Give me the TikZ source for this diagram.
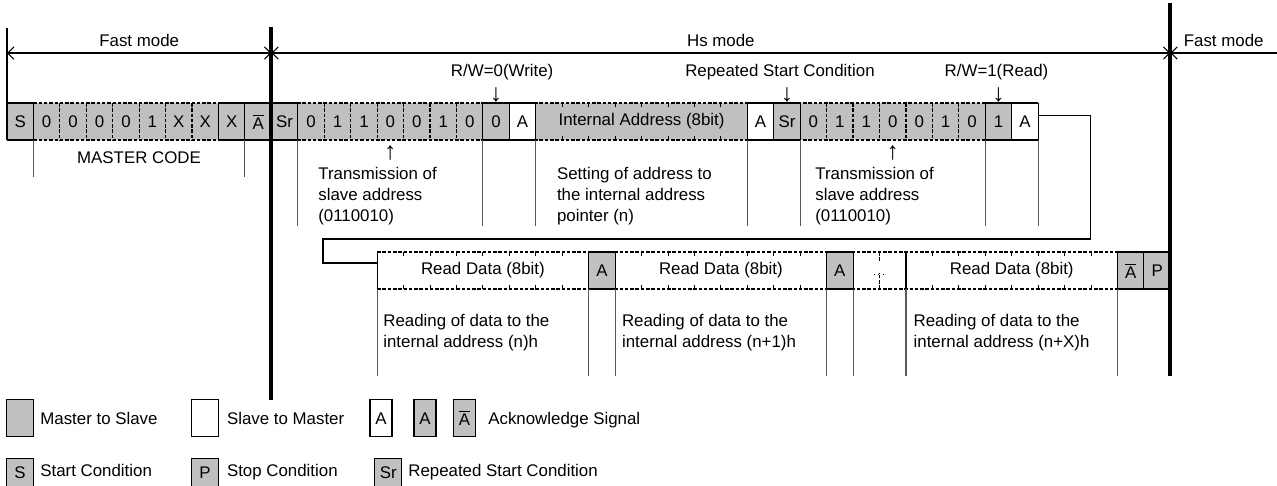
\documentclass[tikz,border=0pt]{standalone}
\usepackage{fontspec}
\setmainfont{Liberation Sans}
\usetikzlibrary{arrows.meta, calc}
\definecolor{mgray}{RGB}{192,192,192}
\definecolor{sepgray}{RGB}{90,90,90}
\newcommand\dfont{\fontsize{9.6pt}{11.9pt}\selectfont}
\newcommand\afont{\fontsize{14pt}{14pt}\selectfont}
\newcommand\nack{$\overline{\mbox{A}}$}
\def\cw{26.44}

\begin{document}
\begin{tikzpicture}[x=0.02cm, y=-0.02cm, font=\dfont,
    cell/.style={minimum width=0.5288cm, minimum height=0.74cm, inner sep=0pt, outer sep=0pt},
    word/.style={cell, minimum width=4.2304cm},
    txt/.style={inner sep=0pt, align=left},
    lbl/.style={inner sep=0pt, anchor=base west},
    pin/.style={inner sep=0pt, font=\afont},
    thin/.style={line width=0.6pt},
    dsh/.style={line width=0.7pt, dash pattern=on 2pt off 1pt},
    sep/.style={thin, draw=sepgray},
    mode/.style={line width=2.3pt},
    barb/.style={thin, {Straight Barb[length=3.5pt,width=7pt]}-{Straight Barb[length=3.5pt,width=7pt]}},
    link/.style={thin},
    key/.style={draw, thin, minimum width=0.532cm, minimum height=0.734cm, inner sep=0pt},
]
    \clip (0,0) rectangle (1277,485);

    \foreach \i/\t/\f in {0/S/mgray, 1/0/mgray, 2/0/mgray, 3/0/mgray, 4/0/mgray, 5/1/mgray,
        6/X/mgray, 7/X/mgray, 8/X/mgray, 9/\nack/mgray, 10/Sr/mgray, 11/0/mgray, 12/1/mgray,
        13/1/mgray, 14/0/mgray, 15/0/mgray, 16/1/mgray, 17/0/mgray, 18/0/mgray, 19/A/white,
        28/A/white, 29/Sr/mgray, 30/0/mgray, 31/1/mgray, 32/1/mgray, 33/0/mgray, 34/0/mgray,
        35/1/mgray, 36/0/mgray, 37/1/mgray, 38/A/white}
        \node[cell, fill=\f] (c\i) at ({7+(\i+0.5)*\cw},121.5) {\t};
    \node[word, fill=mgray] (ia) at ({7+24*\cw},121.5) {Internal Address (8bit)};

    \draw[dsh] (c1.north west) -- (c36.north east) (c1.south west) -- (c36.south east);
    \foreach \a/\b in {0/0, 8/10, 18/19, 28/29, 37/38}
        \draw[thin] (c\a.north west) -- (c\b.north east) (c\a.south west) -- (c\b.south east);
    \foreach \i in {0,1,8,9,11,18,19,28,29,30,37,38}
        \draw[thin] (c\i.north west) -- (c\i.south west);
    \draw[thin] (ia.north west) -- (ia.south west) (c38.north east) -- (c38.south east);
    \foreach \i in {2,...,7}
        \draw[dsh] (c\i.north west) -- (c\i.south west);
    \foreach \i in {12,...,17}
        \draw[dsh] (c\i.north west) -- (c\i.south west);
    \foreach \i in {31,...,36}
        \draw[dsh] (c\i.north west) -- (c\i.south west);
    \foreach \k in {1,...,7}
        \draw[thin] ($(ia.north west)+(\k*\cw,0)$) -- ++(0,4) ($(ia.south west)+(\k*\cw,0)$) -- ++(0,-4);

    \draw[thin] (c0.north west) -- ++(0,-75);
    \foreach \i in {1,9}
        \draw[sep] (c\i.south west) -- ++(0,37);
    \foreach \i in {11,18,28,30,37}
        \draw[sep] (c\i.south west) -- ++(0,86);
    \draw[sep] (ia.south west) -- ++(0,86) (c38.south east) -- ++(0,86);

    \coordinate (d0) at (7,53);
    \coordinate (d1) at ({7+10*\cw},53);
    \coordinate (d2) at ({7+44*\cw},53);
    \coordinate (d3) at (1277,53);
    \draw[barb] (d0) -- (d1);
    \draw[barb] (d1) -- (d2);
    \draw[thin, {Straight Barb[length=3.5pt,width=7pt]}-] (d2) -- (d3);
    \node (fm1) at ($(d0)!0.5!(d1)+(0,-13)$) {Fast mode};
    \node (hsm) at ($(d1)!0.5!(d2)+(0,-13)$) {Hs mode};
    \node (fm2) at ($(d2)!0.5!(d3)+(0,-13)$) {Fast mode};

    \node (rw0)  at ($(c18.north)+(6,-31)$)  {R/W=0(Write)};
    \node[pin] (rw0a) at ($(c18.north)+(0,-8)$)  {↓};
    \node (rsc)  at ($(c29.north)+(-7,-31)$) {Repeated Start Condition};
    \node[pin] (rsca) at ($(c29.north)+(0,-8)$)  {↓};
    \node (rw1)  at ($(c37.north)+(-2,-31)$) {R/W=1(Read)};
    \node[pin] (rw1a) at ($(c37.north)+(0,-8)$)  {↓};
    \node[pin] (up1)  at ($(c14.south)+(0,13)$)   {↑};
    \node[pin] (up2)  at ($(c33.south)+(0,13)$)   {↑};

    \node (mc) at (139,158) {MASTER CODE};
    \node[txt, anchor=west] (tx1) at (318,196) {Transmission of\\slave address\\(0110010)};
    \node[txt, anchor=west] (set) at (556.7,196) {Setting of address to\\the internal address\\pointer (n)};
    \node[txt, anchor=west] (tx2) at (815,196) {Transmission of\\slave address\\(0110010)};

    \node[word] (rd1) at ({7+18*\cw},270.5) {Read Data (8bit)};
    \node[cell, fill=mgray] (a1) at ({7+22.5*\cw},270.5) {A};
    \node[word] (rd2) at ({7+27*\cw},270.5) {Read Data (8bit)};
    \node[cell, fill=mgray] (a2) at ({7+31.5*\cw},270.5) {A};
    \node[cell, minimum width=1.0576cm] (dots) at ({7+33*\cw},270.5) {};
    \node[word] (rd3) at ({7+38*\cw},270.5) {Read Data (8bit)};
    \node[cell, fill=mgray] (na) at ({7+42.5*\cw},270.5) {\nack};
    \node[cell, fill=mgray] (p) at ({7+43.5*\cw},270.5) {P};

    \draw[dsh] (rd1.north west) -- (p.north east) (rd1.south west) -- (p.south east);
    \draw[thin] (a1.north west) rectangle (a1.south east) (a2.north west) rectangle (a2.south east);
    \draw[thin] (na.north west) rectangle (p.south east) (p.north west) -- (p.south west);
    \draw[thin] (rd1.north west) -- (rd1.south west) (rd3.north west) -- (rd3.south west);
    \foreach \n in {rd1,rd2,rd3}
        \foreach \k in {1,...,7}
            \draw[thin] ($(\n.north west)+(\k*\cw,0)$) -- ++(0,4) ($(\n.south west)+(\k*\cw,0)$) -- ++(0,-4);
    \draw[dsh] (dots.north) -- ++(0,10) (dots.south) -- ++(0,-16);
    \draw[thin, dotted] ($(dots.center)+(-6,4)$) -- ++(12,0);
    \foreach \a in {rd1.south west, a1.south west, a1.south east, a2.south west, a2.south east,
        rd3.south west, rd3.south east}
        \draw[sep] (\a) -- ++(0,87);

    \node[txt, anchor=west] (rt1) at (383,333) {Reading of data to the\\internal address (n)h};
    \node[txt, anchor=west] (rt2) at (621.7,333) {Reading of data to the\\internal address (n+1)h};
    \node[txt, anchor=west] (rt3) at (913.3,333) {Reading of data to the\\internal address (n+X)h};

    \draw[link] ($(c38.east)+(0,-5.6)$) -- ++(52.7,0) |- (323,239) |- ($(rd1.west)+(0,-7.5)$);

    \draw[mode] ({7+10*\cw},27) -- ++(0,373);
    \draw[mode] ({7+44*\cw},3) -- ++(0,373);

    \node[key, fill=mgray] (km) at (20,418.3) {};
    \node[lbl] (kmt) at (40,424) {Master to Slave};
    \node[key, fill=white] (ks) at (205,418.3) {};
    \node[lbl] (kst) at (226.7,424) {Slave to Master};
    \node[key, minimum width=0.44cm] (ka1) at (381,418.3) {A};
    \node[key, minimum width=0.44cm, fill=mgray] (ka2) at (425,418.3) {A};
    \node[key, minimum width=0.44cm, fill=mgray] (ka3) at (464.5,418.3) {\nack};
    \node[lbl] (kat) at (488,424) {Acknowledge Signal};

    \node[key, fill=mgray, minimum height=0.594cm] (kss) at (20,473) {S};
    \node[lbl] (ksst) at (40,476) {Start Condition};
    \node[key, fill=mgray, minimum height=0.594cm] (kp) at (205,473) {P};
    \node[lbl] (kpt) at (226.7,476) {Stop Condition};
    \node[key, fill=mgray, minimum height=0.594cm, minimum width=0.546cm] (ksr) at (388.3,473) {Sr};
    \node[lbl] (ksrt) at (408,476) {Repeated Start Condition};
\end{tikzpicture}
\end{document}
